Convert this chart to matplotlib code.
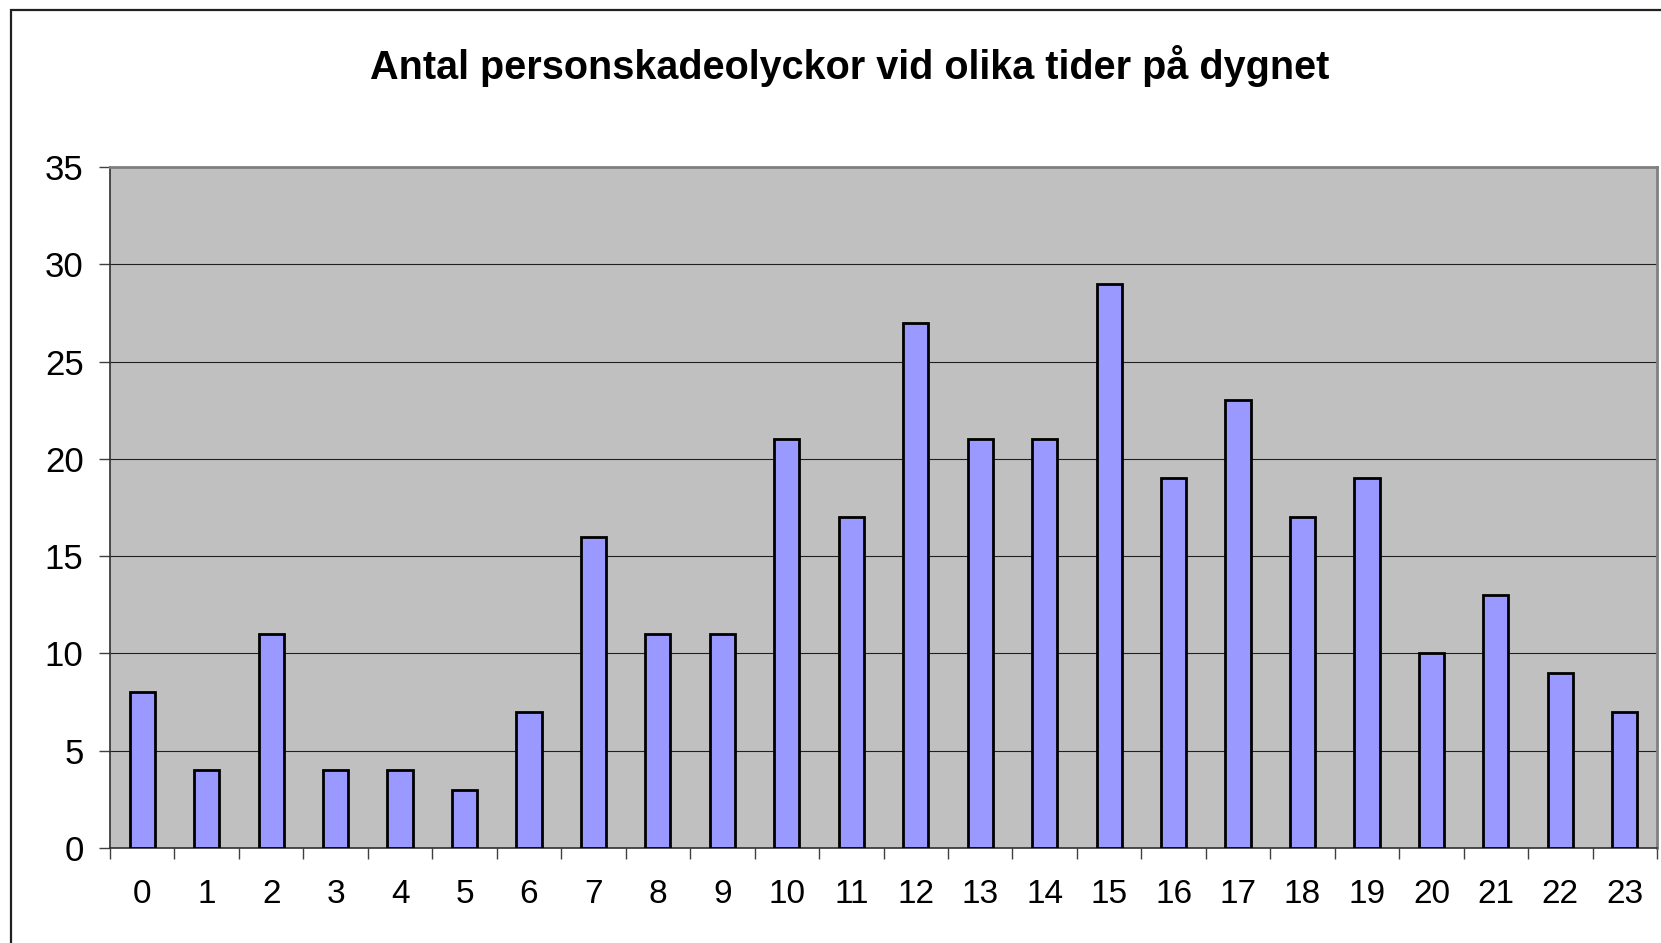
import matplotlib
matplotlib.use("Agg")
import matplotlib.pyplot as plt
from matplotlib.patches import Rectangle
import numpy as np

# timmar på dygnet och antal olyckor
hours = list(range(24))
accidents = [8, 4, 11, 4, 4, 3, 7, 16, 11, 11, 21, 17, 27, 21, 21, 29, 19, 23, 17, 19, 10, 13, 9, 7]
y_ticks = [0, 5, 10, 15, 20, 25, 30, 35]
title = "Antal personskadeolyckor vid olika tider på dygnet"

plt.rcParams['font.family'] = ['Liberation Sans', 'DejaVu Sans']

W, H = 1661, 943
fig = plt.figure(figsize=(W / 100, H / 100), dpi=100)
fig.patch.set_facecolor('white')

# ram runt diagrammet (beskuren till höger och nertill)
fig.patches.append(Rectangle((11 / W, -0.1), 2.0, 1 - 10 / H + 0.1, transform=fig.transFigure,
                             fill=False, edgecolor='#202020', linewidth=1.6))

ax = fig.add_axes([110 / W, 1 - 848 / H, (1657 - 110) / W, (848 - 167) / H])
ax.set_facecolor('#C0C0C0')

x = np.arange(len(hours))
ax.bar(x, accidents, width=0.39, color='#9999FF', edgecolor='black', linewidth=2, zorder=3)

ax.set_xlim(-0.5, len(hours) - 0.5)
ax.set_ylim(0, 35)
ax.set_yticks(y_ticks)
ax.set_xticks(x)
ax.set_xticklabels([str(h) for h in hours])
ax.set_xticks(np.arange(-0.5, len(hours)), minor=True)

ax.grid(axis='y', color='#202020', linewidth=0.8, zorder=1)
ax.set_axisbelow(True)

ax.tick_params(axis='y', length=8, width=1, color='#404040', pad=11, labelsize=25)
ax.tick_params(axis='x', which='major', length=0, pad=22, labelsize=24)
ax.tick_params(axis='x', which='minor', length=8, width=1, color='#404040')

for s in ['top', 'right']:
    ax.spines[s].set_color('#808080')
    ax.spines[s].set_linewidth(2)
ax.spines['left'].set_color('#303030')
ax.spines['bottom'].set_color('#303030')
ax.spines['left'].set_linewidth(1.2)
ax.spines['bottom'].set_linewidth(1.2)

fig.text(850 / W, 1 - 66 / H, title, ha='center', va='center', fontsize=28.5, fontweight='bold')

fig.savefig('out.png', dpi=100)
